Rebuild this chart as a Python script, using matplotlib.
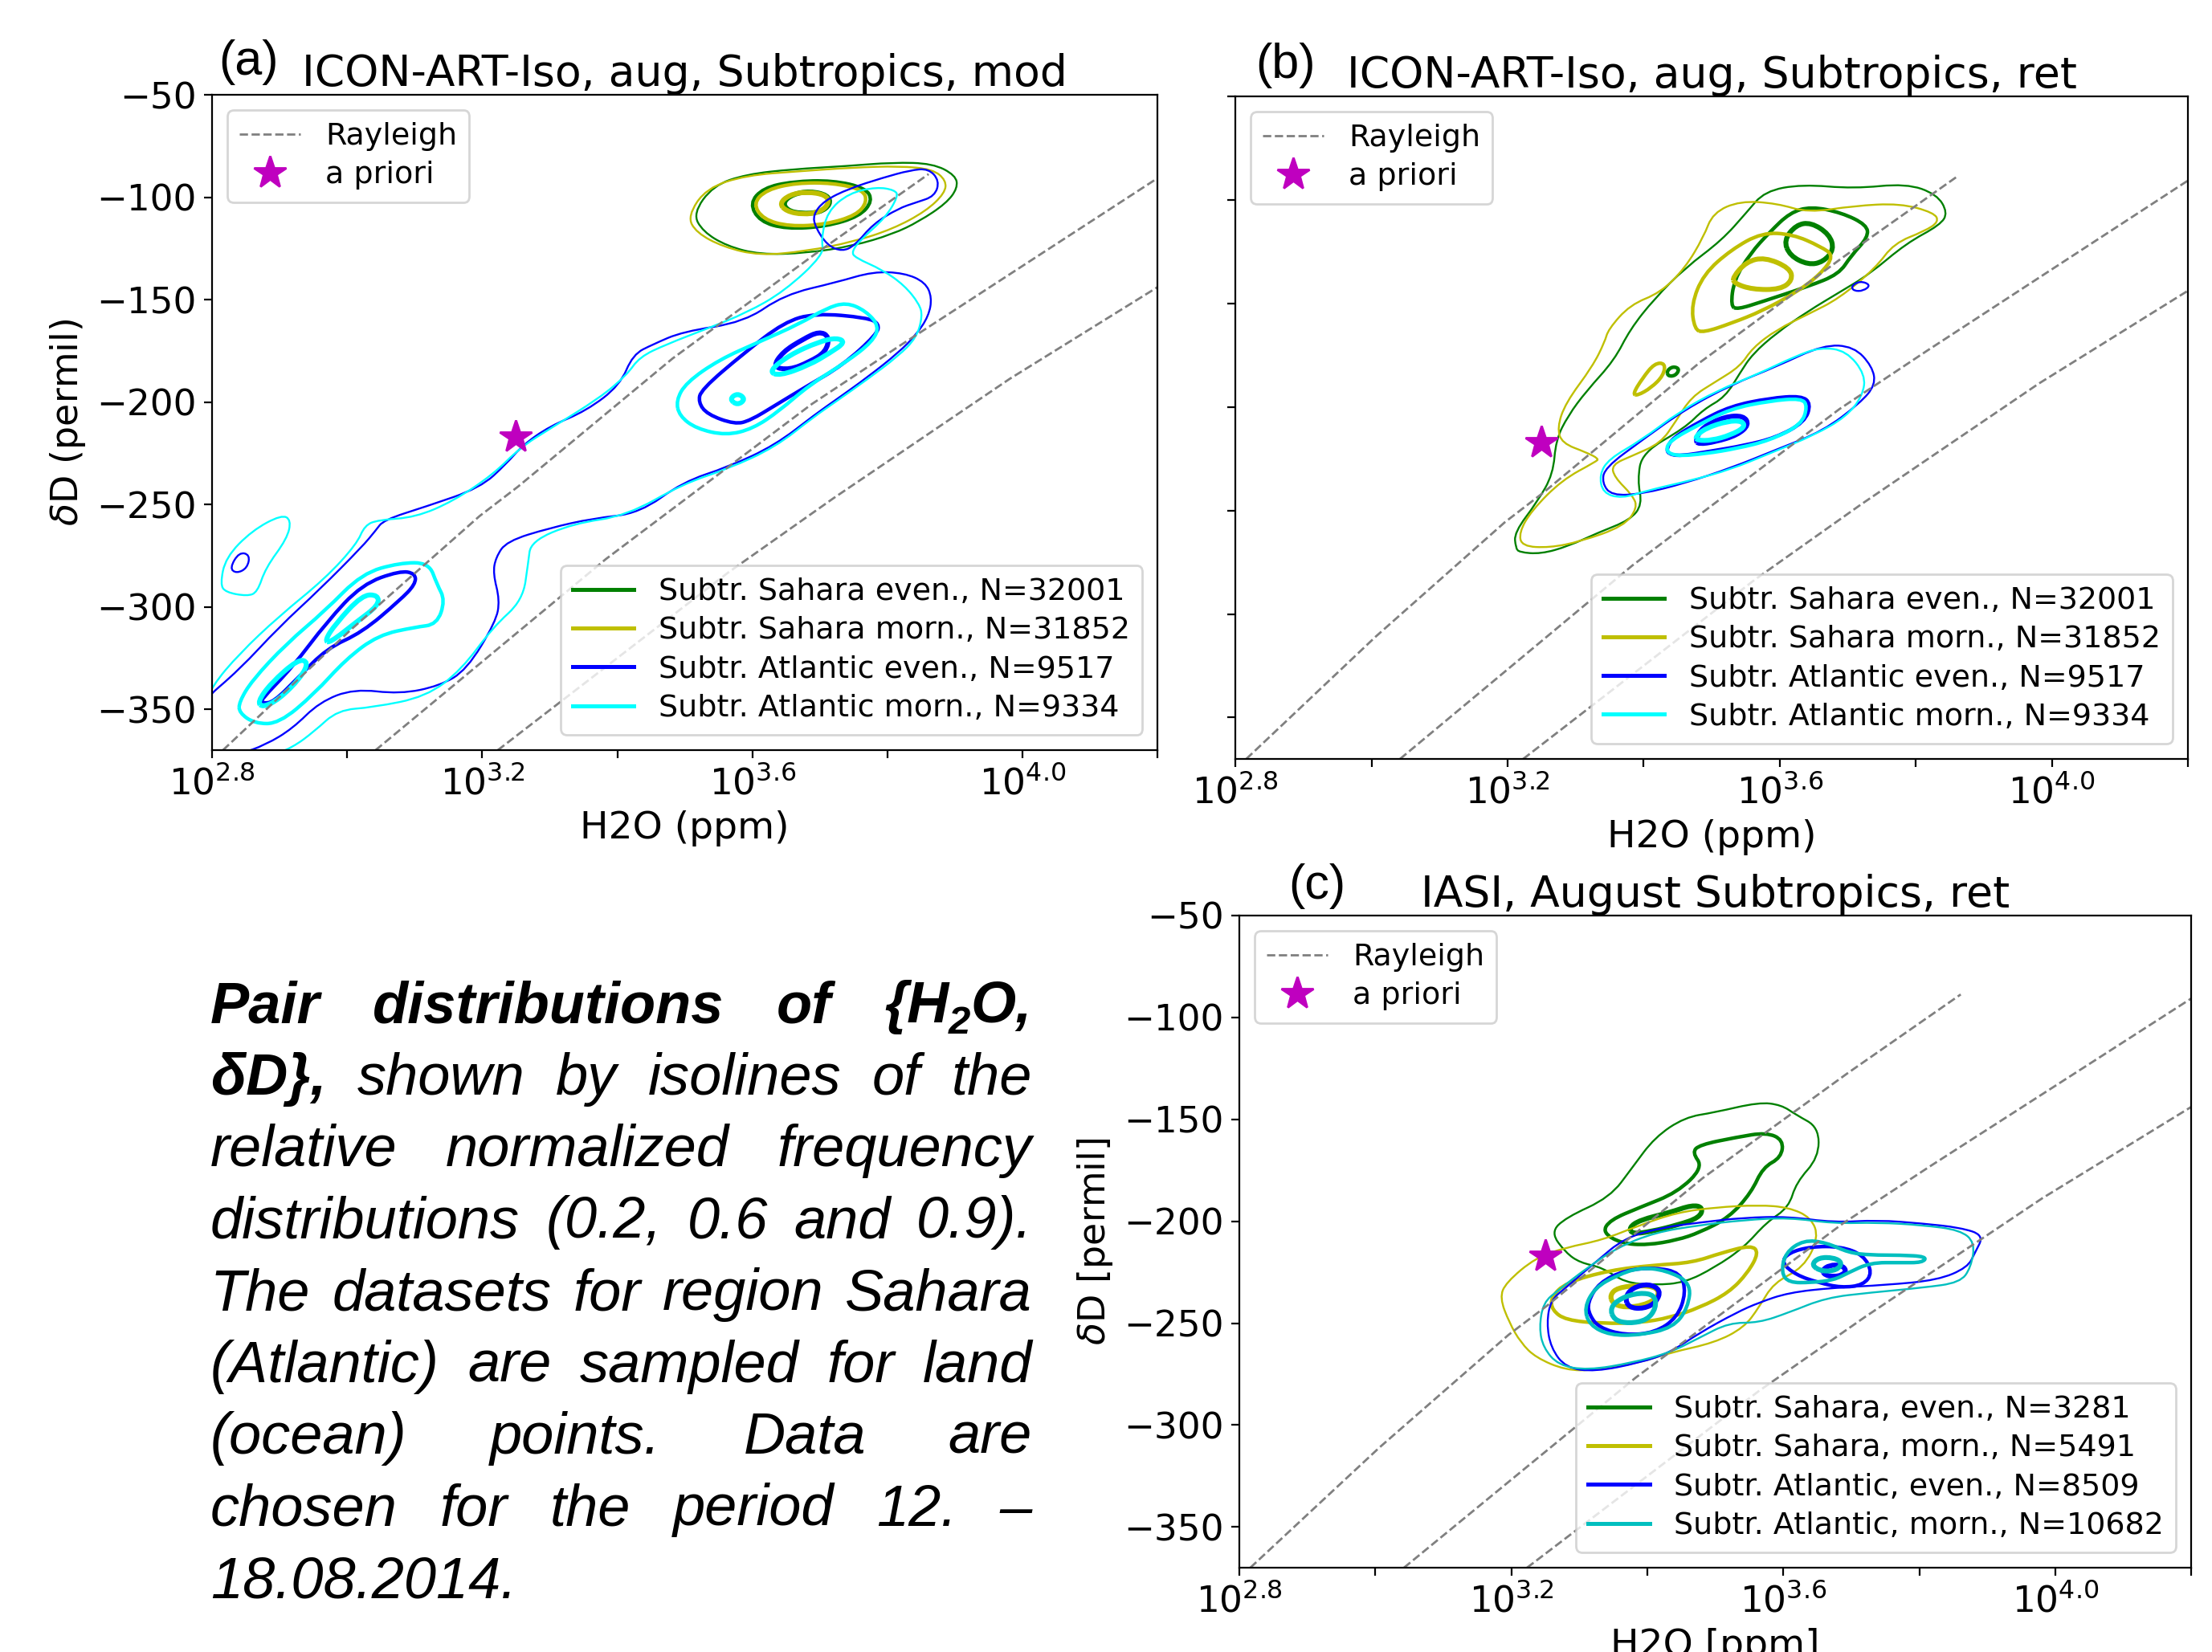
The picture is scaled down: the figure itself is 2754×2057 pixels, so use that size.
import numpy as np
import matplotlib
matplotlib.use("Agg")
import matplotlib.pyplot as plt
from matplotlib import font_manager
from matplotlib.lines import Line2D
from matplotlib.path import Path
from matplotlib.patches import PathPatch

W_PX, H_PX, DPI = 2754, 2057, 200

# ---------------- data (x = log10 H2O [ppm], y = dD [permil]) ----------------
# Rayleigh curves (same in all panels)
RAY1_X = [2.816, 3.006, 3.196, 3.253, 3.482, 3.694, 3.861]
RAY1_D = [-370, -311, -255.7, -241.3, -178.7, -127.5, -88.7]
RAY2_X = [3.042, 3.383, 3.688, 3.816, 4.2]
RAY2_D = [-370, -276.7, -201, -173, -90.7]
RAY3_X = [3.223, 3.564, 3.720, 3.981, 4.2]
RAY3_D = [-370, -283.3, -247, -188.7, -143.9]

APRIORI_X, APRIORI_D = 3.25, -217

XTICKS = [2.8, 3.0, 3.2, 3.4, 3.6, 3.8, 4.0, 4.2]
XTICKLABELS = ['$10^{2.8}$', '', '$10^{3.2}$', '', '$10^{3.6}$', '', '$10^{4.0}$', '']
YTICKS = [-350, -300, -250, -200, -150, -100, -50]

# legend labels
LABELS_MOD = ['Subtr. Sahara even., N=32001', 'Subtr. Sahara morn., N=31852',
              'Subtr. Atlantic even., N=9517', 'Subtr. Atlantic morn., N=9334']
LABELS_IASI = ['Subtr. Sahara, even., N=3281', 'Subtr. Sahara, morn., N=5491',
               'Subtr. Atlantic, even., N=8509', 'Subtr. Atlantic, morn., N=10682']

# ---- panel (a): ICON-ART-Iso, mod ----  (SE Sahara even, SM Sahara morn, AE Atlantic even, AM Atlantic morn)
A_SE_02 = [(3.512, -108.0), (3.542, -94.3), (3.591, -88.8), (3.660, -86.3), (3.739, -84.8), (3.808, -83.0),
           (3.867, -83.5), (3.901, -89.3), (3.904, -95.5), (3.887, -103.0), (3.847, -111.8), (3.808, -118.0),
           (3.749, -123.8), (3.680, -127.3), (3.611, -128.0), (3.562, -123.8), (3.527, -116.8)]
A_SE_06 = [(3.596, -103.0), (3.616, -95.5), (3.660, -92.3), (3.719, -91.8), (3.768, -95.5), (3.778, -101.8),
           (3.759, -109.3), (3.709, -114.3), (3.650, -115.5), (3.611, -111.8)]
A_SE_09 = [(3.645, -102.5), (3.660, -98.5), (3.685, -97.0), (3.712, -99.0), (3.716, -103.5), (3.700, -107.5),
           (3.672, -108.0), (3.652, -106.5)]
A_SM_02 = [(3.504, -109.3), (3.532, -95.5), (3.591, -89.3), (3.670, -87.3), (3.749, -85.5), (3.818, -84.8),
           (3.867, -86.3), (3.887, -91.8), (3.885, -98.0), (3.857, -106.8), (3.808, -115.5), (3.749, -121.8),
           (3.680, -126.3), (3.611, -128.5), (3.557, -124.3), (3.517, -117.3)]
A_SM_06 = [(3.601, -103.0), (3.621, -96.3), (3.665, -93.0), (3.719, -93.0), (3.764, -96.3), (3.770, -102.3),
           (3.754, -108.8), (3.709, -113.3), (3.655, -114.3), (3.616, -110.8)]
A_SM_09 = [(3.640, -103.0), (3.655, -98.8), (3.680, -97.3), (3.709, -98.8), (3.714, -103.0), (3.700, -107.3),
           (3.675, -108.5), (3.650, -106.8)]
A_AE_02 = [(2.783, -346.8), (2.840, -330.8), (2.899, -309.9), (2.959, -291.6), (3.022, -270.7), (3.042, -262.8),
           (3.054, -257.6), (3.117, -251.0), (3.197, -241.9), (3.236, -230.1), (3.260, -221.0), (3.300, -211.8),
           (3.354, -204.3), (3.404, -191.8), (3.423, -176.8), (3.453, -171.8), (3.497, -165.6), (3.588, -161.0),
           (3.647, -147.6), (3.725, -141.5), (3.779, -136.3), (3.825, -137.0), (3.856, -141.5), (3.866, -149.0),
           (3.861, -158.0), (3.843, -167.0), (3.816, -176.0), (3.770, -188.0), (3.725, -198.6), (3.693, -206.0),
           (3.634, -221.0), (3.565, -231.6), (3.497, -239.0), (3.433, -254.3), (3.364, -256.8), (3.300, -261.5),
           (3.236, -268.0), (3.220, -275.9), (3.216, -283.7), (3.226, -296.8), (3.220, -307.3), (3.177, -330.8),
           (3.137, -338.6), (3.078, -342.6), (3.010, -340.0), (2.959, -346.5), (2.919, -359.5), (2.879, -367.4),
           (2.840, -372.0), (2.783, -378.0), (2.750, -365.0)]
A_AE_02b = [(3.690, -108.5), (3.706, -101.8), (3.743, -95.8), (3.793, -90.5), (3.834, -86.8), (3.861, -86.0),
            (3.877, -92.0), (3.870, -99.5), (3.843, -102.5), (3.816, -105.5), (3.779, -113.0), (3.752, -123.5),
            (3.733, -126.5), (3.711, -123.5), (3.693, -114.5)]
A_AE_02c = [(2.826, -281.1), (2.840, -273.3), (2.856, -274.6), (2.852, -281.1), (2.836, -283.7)]
A_AE_06 = [(3.520, -200.1), (3.524, -194.0), (3.588, -176.0), (3.647, -161.0), (3.693, -156.6), (3.770, -158.8),
           (3.788, -161.8), (3.784, -167.0), (3.734, -182.0), (3.679, -192.6), (3.634, -201.6), (3.597, -209.0),
           (3.574, -210.9), (3.533, -206.0)]
A_AE_06b = [(2.871, -345.8), (2.919, -329.5), (2.970, -307.3), (3.022, -289.0), (3.078, -282.4), (3.101, -283.7),
            (3.101, -289.0), (3.078, -296.8), (3.022, -312.5), (2.970, -320.3), (2.927, -334.7), (2.891, -346.5),
            (2.875, -347.1)]
A_AE_09 = [(3.630, -183.0), (3.645, -175.5), (3.675, -169.3), (3.699, -165.5), (3.714, -168.0), (3.709, -175.5),
           (3.684, -180.5), (3.655, -184.3)]
A_AM_02 = [(2.783, -351.8), (2.800, -338.6), (2.840, -323.0), (2.899, -304.6), (2.967, -286.3), (3.014, -269.4),
           (3.026, -260.2), (3.046, -257.6), (3.101, -256.3), (3.157, -248.4), (3.216, -235.4), (3.256, -222.3),
           (3.300, -213.1), (3.374, -198.0), (3.414, -186.8), (3.433, -178.0), (3.473, -171.8), (3.532, -164.3),
           (3.591, -156.5), (3.647, -146.0), (3.706, -128.0), (3.702, -120.5), (3.711, -107.0), (3.743, -98.0),
           (3.784, -95.0), (3.811, -96.5), (3.816, -99.5), (3.797, -110.0), (3.761, -120.5), (3.747, -126.5),
           (3.752, -129.5), (3.793, -135.5), (3.825, -143.0), (3.847, -152.0), (3.852, -158.0), (3.843, -168.6),
           (3.816, -177.6), (3.770, -189.0), (3.725, -199.5), (3.690, -207.5), (3.634, -222.0), (3.565, -232.5),
           (3.497, -240.0), (3.414, -255.5), (3.335, -259.3), (3.272, -268.0), (3.268, -278.5), (3.260, -296.8),
           (3.216, -309.9), (3.169, -330.8), (3.117, -343.9), (3.038, -349.1), (2.986, -350.4), (2.951, -360.9),
           (2.919, -368.7), (2.879, -374.0), (2.800, -385.0), (2.750, -370.0)]
A_AM_02b = [(2.812, -289.0), (2.820, -275.9), (2.859, -262.8), (2.903, -255.0), (2.917, -257.6), (2.911, -266.7),
            (2.879, -281.1), (2.867, -292.9), (2.852, -294.8), (2.820, -292.9)]
A_AM_06 = [(3.487, -199.3), (3.502, -190.5), (3.551, -179.3), (3.611, -170.5), (3.670, -161.8), (3.709, -154.3),
           (3.739, -151.3), (3.768, -155.5), (3.788, -163.0), (3.778, -170.5), (3.739, -180.5), (3.684, -191.8),
           (3.640, -204.3), (3.601, -213.0), (3.561, -216.3), (3.517, -213.0), (3.492, -206.8)]
A_AM_06b = [(2.840, -346.5), (2.859, -336.0), (2.910, -318.0), (2.967, -302.0), (3.022, -283.7), (3.078, -278.5),
            (3.121, -278.5), (3.133, -289.0), (3.145, -296.8), (3.133, -308.6), (3.101, -309.9), (3.046, -313.8),
            (2.998, -325.6), (2.951, -342.6), (2.899, -357.0), (2.863, -357.0), (2.840, -351.7)]
A_AM_09 = [(3.624, -185.0), (3.655, -177.0), (3.699, -170.5), (3.725, -168.6), (3.738, -170.8), (3.715, -176.0),
           (3.684, -182.0), (3.640, -187.3)]
A_AM_09b = [(3.566, -198.6), (3.578, -195.6), (3.590, -198.6), (3.578, -201.6)]
A_AM_09c = [(2.967, -316.4), (2.982, -308.6), (3.022, -294.2), (3.046, -294.2), (3.046, -299.4), (3.014, -307.3),
            (2.974, -317.7)]
A_AM_09d = [(2.867, -346.5), (2.887, -337.3), (2.927, -325.6), (2.943, -326.9), (2.931, -334.7), (2.899, -345.2),
            (2.875, -349.1)]

# ---- panel (b): ICON-ART-Iso, ret ----
B_SE_02 = [(3.212, -268.0), (3.210, -260.6), (3.244, -245.7), (3.267, -232.4), (3.271, -216.0), (3.289, -204.2),
           (3.316, -192.3), (3.357, -177.4), (3.380, -162.6), (3.416, -147.7), (3.461, -132.9), (3.515, -119.5),
           (3.551, -106.2), (3.578, -95.8), (3.633, -92.5), (3.709, -94.6), (3.786, -92.1), (3.831, -97.3),
           (3.847, -106.2), (3.836, -112.1), (3.786, -121.0), (3.732, -135.9), (3.687, -144.8), (3.642, -153.7),
           (3.596, -164.1), (3.560, -174.5), (3.542, -183.4), (3.520, -195.2), (3.488, -201.2), (3.461, -210.1),
           (3.398, -222.0), (3.391, -235.3), (3.398, -247.2), (3.380, -254.6), (3.334, -260.6), (3.289, -267.3),
           (3.249, -271.0), (3.217, -270.2)]
B_SE_06 = [(3.528, -151.3), (3.533, -138.6), (3.557, -125.8), (3.585, -115.7), (3.615, -106.2), (3.646, -103.2),
           (3.691, -106.2), (3.728, -112.1), (3.730, -118.0), (3.705, -127.0), (3.687, -135.9), (3.642, -141.8),
           (3.574, -149.2), (3.538, -152.9)]
B_SE_06b = [(3.434, -182.6), (3.443, -180.4), (3.453, -181.6), (3.447, -184.9), (3.436, -185.2)]
B_SE_09 = [(3.606, -119.5), (3.624, -112.1), (3.646, -110.9), (3.673, -116.6), (3.680, -124.0), (3.664, -130.0),
           (3.642, -131.4), (3.615, -127.0)]
B_SM_02 = [(3.217, -260.6), (3.235, -250.2), (3.280, -235.3), (3.330, -226.4), (3.334, -225.0), (3.316, -222.0),
           (3.280, -217.5), (3.273, -210.1), (3.285, -198.2), (3.325, -180.4), (3.343, -168.5), (3.348, -162.6),
           (3.380, -150.7), (3.425, -144.8), (3.461, -132.9), (3.488, -118.0), (3.502, -106.2), (3.542, -100.5),
           (3.596, -101.7), (3.642, -106.2), (3.709, -102.9), (3.777, -101.7), (3.827, -106.2), (3.834, -110.6),
           (3.813, -115.1), (3.768, -121.0), (3.741, -132.9), (3.687, -147.7), (3.642, -155.2), (3.596, -162.6),
           (3.560, -171.5), (3.542, -180.4), (3.506, -187.8), (3.470, -195.2), (3.447, -207.1), (3.425, -217.5),
           (3.384, -223.5), (3.353, -227.9), (3.357, -233.9), (3.384, -242.8), (3.391, -248.7), (3.371, -257.6),
           (3.307, -265.0), (3.262, -268.0), (3.221, -267.3)]
B_SM_06 = [(3.475, -162.6), (3.470, -150.7), (3.488, -135.9), (3.529, -124.0), (3.574, -115.8), (3.619, -116.6),
           (3.660, -122.5), (3.680, -127.0), (3.660, -135.9), (3.624, -144.8), (3.574, -153.7), (3.529, -159.6),
           (3.488, -164.1)]
B_SM_06b = [(3.384, -193.8), (3.398, -186.3), (3.416, -178.9), (3.432, -178.9), (3.429, -184.9), (3.411, -190.8),
            (3.391, -194.5)]
B_SM_09 = [(3.531, -137.4), (3.551, -129.9), (3.578, -127.7), (3.615, -132.9), (3.619, -138.8), (3.601, -143.3),
           (3.560, -143.3), (3.533, -140.3)]
B_AE_02 = [(3.339, -236.8), (3.343, -229.4), (3.398, -216.0), (3.461, -201.2), (3.529, -189.3), (3.596, -180.4),
           (3.664, -170.0), (3.709, -170.8), (3.736, -180.4), (3.741, -189.3), (3.718, -198.2), (3.664, -211.6),
           (3.596, -220.5), (3.529, -229.4), (3.461, -236.8), (3.398, -242.0), (3.353, -242.8)]
B_AE_02b = [(3.705, -141.8), (3.718, -139.1), (3.734, -141.1), (3.723, -144.0), (3.709, -144.0)]
B_AE_06 = [(3.434, -220.0), (3.443, -214.9), (3.481, -207.3), (3.528, -199.6), (3.585, -195.8), (3.632, -194.6),
           (3.646, -198.4), (3.637, -207.3), (3.594, -214.9), (3.547, -218.7), (3.500, -221.3), (3.453, -223.8),
           (3.436, -222.6)]
B_AE_09 = [(3.476, -216.2), (3.486, -209.8), (3.519, -204.7), (3.547, -204.2), (3.555, -208.6), (3.538, -213.6),
           (3.505, -216.9), (3.481, -218.0)]
B_AM_02 = [(3.335, -232.7), (3.349, -225.1), (3.396, -216.2), (3.453, -202.2), (3.509, -192.0), (3.566, -184.4),
           (3.623, -175.5), (3.660, -171.2), (3.698, -172.9), (3.726, -184.4), (3.722, -194.6), (3.698, -204.7),
           (3.651, -213.6), (3.585, -222.5), (3.528, -230.2), (3.472, -235.3), (3.406, -240.3), (3.368, -244.2),
           (3.340, -241.6)]
B_AM_06 = [(3.432, -221.3), (3.439, -216.2), (3.481, -208.6), (3.528, -200.9), (3.585, -197.1), (3.632, -195.8),
           (3.641, -199.6), (3.632, -208.6), (3.585, -216.2), (3.538, -220.0), (3.491, -222.6), (3.448, -223.8)]
B_AM_09 = [(3.476, -214.4), (3.491, -210.3), (3.524, -206.8), (3.545, -206.8), (3.549, -209.8), (3.528, -213.6),
           (3.500, -216.2), (3.479, -216.2)]

# ---- panel (c): IASI, ret ----
C_SE_02 = [(3.258, -205.5), (3.280, -198.2), (3.345, -188.3), (3.378, -173.6), (3.411, -158.8), (3.455, -149.0),
           (3.499, -146.6), (3.564, -141.6), (3.597, -142.9), (3.619, -147.8), (3.652, -153.9), (3.652, -168.7),
           (3.619, -181.0), (3.608, -193.2), (3.575, -200.6), (3.542, -212.9), (3.499, -222.7), (3.455, -230.1),
           (3.411, -231.3), (3.367, -230.1), (3.334, -222.7), (3.301, -220.3), (3.280, -215.4)]
C_SE_06 = [(3.334, -205.5), (3.345, -199.4), (3.389, -193.2), (3.444, -185.9), (3.482, -173.6), (3.466, -166.2),
           (3.477, -162.5), (3.531, -158.8), (3.575, -156.4), (3.600, -160.1), (3.597, -168.7), (3.570, -173.6),
           (3.553, -185.9), (3.520, -198.2), (3.477, -205.5), (3.444, -209.2), (3.400, -211.7), (3.362, -210.9)]
C_SE_09 = [(3.373, -203.1), (3.389, -199.4), (3.433, -195.7), (3.466, -192.0), (3.482, -193.2), (3.477, -198.2),
           (3.444, -201.9), (3.406, -205.0), (3.378, -206.3)]
C_SM_02 = [(3.183, -237.5), (3.192, -230.1), (3.236, -217.8), (3.280, -212.9), (3.334, -209.2), (3.389, -201.9),
           (3.444, -195.7), (3.499, -193.2), (3.564, -192.0), (3.608, -193.2), (3.641, -198.2), (3.652, -208.0),
           (3.630, -222.7), (3.586, -230.1), (3.564, -242.4), (3.542, -252.2), (3.499, -259.6), (3.433, -264.5),
           (3.389, -269.4), (3.323, -273.1), (3.280, -273.1), (3.236, -266.9), (3.214, -259.6), (3.197, -249.8)]
C_SM_06 = [(3.258, -237.5), (3.280, -230.1), (3.345, -224.0), (3.411, -221.5), (3.466, -220.3), (3.510, -215.4),
           (3.553, -211.7), (3.564, -215.4), (3.548, -225.2), (3.520, -235.0), (3.477, -242.4), (3.433, -247.3),
           (3.389, -249.8), (3.334, -250.2), (3.280, -248.5), (3.260, -243.6)]
C_SM_09 = [(3.345, -236.2), (3.356, -232.6), (3.389, -231.3), (3.416, -232.6), (3.416, -237.5), (3.395, -241.2),
           (3.367, -242.4), (3.349, -240.4)]
C_AE_02 = [(3.258, -238.7), (3.280, -232.6), (3.323, -220.3), (3.367, -208.0), (3.422, -203.1), (3.477, -200.6),
           (3.542, -198.2), (3.608, -197.7), (3.674, -200.6), (3.739, -199.4), (3.805, -201.1), (3.860, -203.1),
           (3.895, -206.8), (3.882, -215.4), (3.871, -222.7), (3.827, -228.9), (3.750, -231.3), (3.674, -232.6),
           (3.608, -235.0), (3.564, -239.9), (3.531, -244.8), (3.477, -254.7), (3.433, -264.5), (3.389, -269.4),
           (3.323, -273.8), (3.280, -271.9), (3.258, -262.0), (3.252, -249.8)]
C_AE_06 = [(3.312, -239.9), (3.329, -230.1), (3.367, -224.0), (3.411, -222.7), (3.449, -225.2), (3.457, -235.0),
           (3.444, -247.3), (3.411, -254.7), (3.367, -255.9), (3.329, -252.2), (3.315, -246.1)]
C_AE_06b = [(3.597, -220.3), (3.608, -215.4), (3.641, -212.4), (3.685, -212.4), (3.718, -216.6), (3.731, -225.2),
            (3.718, -231.3), (3.685, -232.6), (3.652, -230.1), (3.619, -226.4)]
C_AE_09 = [(3.367, -237.5), (3.378, -232.6), (3.402, -230.6), (3.420, -233.8), (3.413, -239.9), (3.395, -242.9),
           (3.373, -242.4)]
C_AE_09b = [(3.657, -224.0), (3.668, -221.5), (3.685, -221.5), (3.693, -224.0), (3.687, -226.4), (3.674, -227.2),
            (3.661, -226.4)]
C_AM_02 = [(3.247, -239.9), (3.269, -233.8), (3.312, -222.7), (3.356, -212.9), (3.411, -205.5), (3.477, -201.9),
           (3.542, -199.4), (3.608, -198.2), (3.674, -201.1), (3.739, -200.6), (3.805, -201.9), (3.860, -204.3),
           (3.882, -210.4), (3.876, -222.7), (3.860, -230.1), (3.805, -232.6), (3.728, -235.0), (3.663, -237.5),
           (3.608, -244.8), (3.564, -249.8), (3.520, -249.8), (3.477, -257.1), (3.433, -264.5), (3.378, -269.4),
           (3.312, -273.1), (3.269, -270.6), (3.247, -262.0), (3.241, -252.2)]
C_AM_06 = [(3.307, -242.4), (3.323, -232.6), (3.356, -226.4), (3.389, -222.7), (3.427, -224.0), (3.464, -230.1),
           (3.460, -242.4), (3.438, -252.2), (3.389, -255.9), (3.345, -255.9), (3.315, -251.0)]
C_AM_06b = [(3.597, -225.2), (3.603, -215.4), (3.630, -209.2), (3.663, -210.4), (3.696, -215.4), (3.728, -216.6),
            (3.772, -216.6), (3.811, -217.3), (3.805, -220.3), (3.772, -220.3), (3.728, -220.3), (3.696, -225.2),
            (3.674, -228.9), (3.641, -230.1), (3.608, -230.1)]
C_AM_09 = [(3.345, -242.4), (3.362, -237.5), (3.389, -235.0), (3.411, -236.2), (3.413, -242.4), (3.400, -248.5),
           (3.373, -250.2), (3.351, -248.5)]
C_AM_09b = [(3.641, -221.5), (3.652, -217.8), (3.674, -217.8), (3.687, -220.3), (3.679, -224.0), (3.657, -224.7)]

# caption text (one entry per printed line), number of leading bold words per line
CAPTION_LINES = [
    "Pair distributions of {H2O,",
    "\u03b4D}, shown by isolines of the",
    "relative normalized frequency",
    "distributions (0.2, 0.6 and 0.9).",
    "The datasets for region Sahara",
    "(Atlantic) are sampled for land",
    "(ocean) points. Data are",
    "chosen for the period 12. \u2013",
    "18.08.2014.",
]
CAPTION_BOLD = [4, 1, 0, 0, 0, 0, 0, 0, 0]

# ---------------- style ----------------
LEVEL_LW = {0.2: 0.85, 0.6: 1.6, 0.9: 2.2}
COLS_MOD = ['g', 'y', 'b', 'cyan']
COLS_IASI = ['g', 'y', 'b', 'c']
TICK_FS, TITLE_FS, XLABEL_FS, YLABEL_FS, LEG_FS = 16.3, 19.3, 17, 16.5, 13.7

installed = {f.name for f in font_manager.fontManager.ttflist}
if 'Liberation Sans Narrow' in installed:
    CAP_FAMILY, CAP_FS = 'Liberation Sans Narrow', 28.5
else:
    CAP_FAMILY, CAP_FS = 'Liberation Sans', 26


def closed_curve(pts):
    # smooth closed outline through the read contour vertices
    p = np.asarray(pts, float)
    mids = (p + np.roll(p, -1, axis=0)) / 2
    verts = [mids[-1]]
    codes = [Path.MOVETO]
    for i in range(len(p)):
        verts += [p[i], mids[i]]
        codes += [Path.CURVE3, Path.CURVE3]
    return Path(verts, codes)


def draw_panel(ax, groups, cols, labels, title, xlabel, ylabel, show_ylabels=True):
    ax.plot(RAY1_X, RAY1_D, ls='--', color='gray', lw=1.0)
    ax.plot(RAY2_X, RAY2_D, ls='--', color='gray', lw=1.0)
    ax.plot(RAY3_X, RAY3_D, ls='--', color='gray', lw=1.0)
    for k, sets in enumerate(groups):
        for level, shapes in sets:
            for pts in shapes:
                ax.add_patch(PathPatch(closed_curve(pts), facecolor='none', edgecolor=cols[k],
                                       lw=LEVEL_LW[level], joinstyle='round'))
    ax.plot([APRIORI_X], [APRIORI_D], ls='none', marker='*', color='m', ms=15, zorder=5)

    ax.set_xlim(2.8, 4.2)
    ax.set_ylim(-370, -50)
    ax.set_xticks(XTICKS)
    ax.set_xticklabels(XTICKLABELS)
    ax.set_yticks(YTICKS)
    ax.tick_params(labelsize=TICK_FS, labelleft=show_ylabels)
    ax.set_title(title, fontsize=TITLE_FS, pad=4)
    ax.set_xlabel(xlabel, fontsize=XLABEL_FS)
    if ylabel:
        ax.set_ylabel(ylabel, fontsize=YLABEL_FS)

    h1 = [Line2D([], [], ls='--', color='gray', lw=1.0),
          Line2D([], [], ls='none', marker='*', color='m', ms=15)]
    leg1 = ax.legend(h1, ['Rayleigh', 'a priori'], loc='upper left', fontsize=LEG_FS, labelspacing=0.32)
    ax.add_artist(leg1)
    h2 = [Line2D([], [], color=c, lw=1.8) for c in cols]
    ax.legend(h2, labels, loc='lower right', fontsize=LEG_FS, labelspacing=0.32)


fig = plt.figure(figsize=(W_PX / DPI, H_PX / DPI), dpi=DPI)

ax_a = fig.add_axes([0.0959, 0.5459, 0.4274, 0.3967])
ax_b = fig.add_axes([0.5585, 0.5406, 0.4306, 0.4011])
ax_c = fig.add_axes([0.5603, 0.0510, 0.4303, 0.3948])

groups_a = [
    [(0.2, [A_SE_02]), (0.6, [A_SE_06]), (0.9, [A_SE_09])],
    [(0.2, [A_SM_02]), (0.6, [A_SM_06]), (0.9, [A_SM_09])],
    [(0.2, [A_AE_02, A_AE_02b, A_AE_02c]), (0.6, [A_AE_06, A_AE_06b]), (0.9, [A_AE_09])],
    [(0.2, [A_AM_02, A_AM_02b]), (0.6, [A_AM_06, A_AM_06b]), (0.9, [A_AM_09, A_AM_09b, A_AM_09c, A_AM_09d])],
]
groups_b = [
    [(0.2, [B_SE_02]), (0.6, [B_SE_06, B_SE_06b]), (0.9, [B_SE_09])],
    [(0.2, [B_SM_02]), (0.6, [B_SM_06, B_SM_06b]), (0.9, [B_SM_09])],
    [(0.2, [B_AE_02, B_AE_02b]), (0.6, [B_AE_06]), (0.9, [B_AE_09])],
    [(0.2, [B_AM_02]), (0.6, [B_AM_06]), (0.9, [B_AM_09])],
]
groups_c = [
    [(0.2, [C_SE_02]), (0.6, [C_SE_06]), (0.9, [C_SE_09])],
    [(0.2, [C_SM_02]), (0.6, [C_SM_06]), (0.9, [C_SM_09])],
    [(0.2, [C_AE_02]), (0.6, [C_AE_06, C_AE_06b]), (0.9, [C_AE_09, C_AE_09b])],
    [(0.2, [C_AM_02]), (0.6, [C_AM_06, C_AM_06b]), (0.9, [C_AM_09, C_AM_09b])],
]

draw_panel(ax_a, groups_a, COLS_MOD, LABELS_MOD, 'ICON-ART-Iso, aug, Subtropics, mod',
           'H2O (ppm)', r'$\delta$D (permil)')
draw_panel(ax_b, groups_b, COLS_MOD, LABELS_MOD, 'ICON-ART-Iso, aug, Subtropics, ret',
           'H2O (ppm)', None, show_ylabels=False)
draw_panel(ax_c, groups_c, COLS_IASI, LABELS_IASI, 'IASI, August Subtropics, ret',
           'H2O [ppm]', r'$\delta$D [permil]')

# panel letters
for s, x, y in [('(a)', 272, 78), ('(b)', 1563, 81), ('(c)', 1604, 1104)]:
    fig.text(x / W_PX, 1 - y / H_PX, s, fontsize=22, family=CAP_FAMILY, va='center', ha='left')

# ---------------- justified caption ----------------
CAP_LEFT, CAP_RIGHT = 262, 1285
CAP_BASE0, CAP_STEP = 1273, 89.5
renderer = fig.canvas.get_renderer()


def word_parts(word, bold):
    wt = 'bold' if bold else 'normal'
    if word == '{H2O,':
        return [('{H', wt, 1.0, 0.0), ('2', wt, 0.68, -0.2), ('O,', wt, 1.0, 0.0)]
    return [(word, wt, 1.0, 0.0)]


def build_caption(fs):
    lines = []
    for k, line in enumerate(CAPTION_LINES):
        items = []
        for i, w in enumerate(line.split(' ')):
            parts, wsum = [], 0.0
            for s, wt, scale, dy in word_parts(w, i < CAPTION_BOLD[k]):
                t = fig.text(0, 0, s, fontsize=fs * scale, fontweight=wt, style='italic',
                             family=CAP_FAMILY, ha='left', va='baseline')
                parts.append((t, wsum, dy))
                wsum += t.get_window_extent(renderer).width
            items.append((parts, wsum))
        lines.append(items)
    return lines


cap = build_caption(CAP_FS)
em = CAP_FS * DPI / 72
need = max(sum(wd for _, wd in items) + 0.12 * em * (len(items) - 1) for items in cap[:-1])
if need > CAP_RIGHT - CAP_LEFT:
    for items in cap:
        for parts, _ in items:
            for t, _, _ in parts:
                t.remove()
    CAP_FS = CAP_FS * (CAP_RIGHT - CAP_LEFT) / need
    cap = build_caption(CAP_FS)
    em = CAP_FS * DPI / 72

for k, items in enumerate(cap):
    total = sum(wd for _, wd in items)
    if k < len(cap) - 1 and len(items) > 1:
        gap = (CAP_RIGHT - CAP_LEFT - total) / (len(items) - 1)
    else:
        gap = 0.25 * em
    x = CAP_LEFT
    base = CAP_BASE0 + k * CAP_STEP
    for parts, wd in items:
        for t, off, dy in parts:
            t.set_position(((x + off) / W_PX, 1 - (base - dy * em) / H_PX))
        x += wd + gap

fig.savefig('out.png', dpi=DPI)
